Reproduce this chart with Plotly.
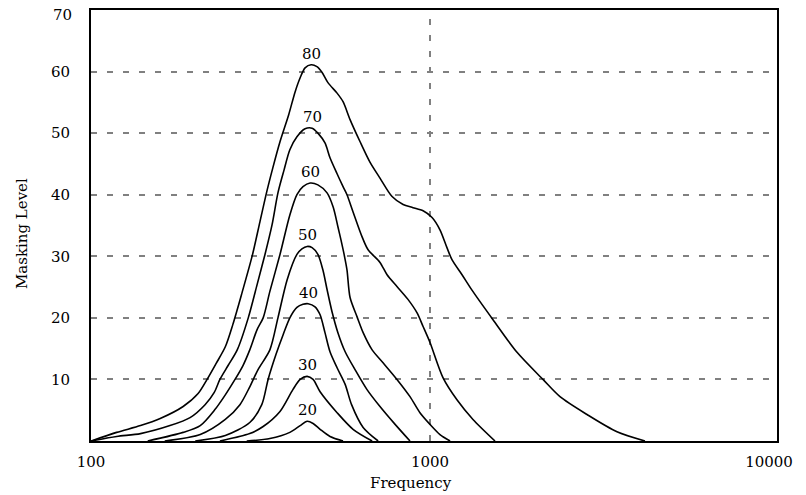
import numpy as np
import plotly.graph_objects as go

# Masking curves: frequency (Hz) and masking level for masker levels 20..80
freq_80 = [100, 119, 140, 160, 187, 207, 220, 234, 249, 262, 279, 299, 315, 330, 344, 361, 383, 400, 414, 428,
           446, 464, 480, 500, 532, 554, 581, 622, 665, 712, 773, 833, 891, 954, 1014, 1070, 1122, 1162, 1243, 1330,
           1534, 1806, 2154, 2418, 2905, 3561, 4307]
level_80 = [0, 1.4, 2.5, 3.65, 5.6, 7.7, 10.0, 12.6, 15.3, 18.9, 24.1, 30.1, 35.6, 40.5, 44.4, 48.6, 53.0, 56.7, 59.0, 60.6,
            61.1, 60.8, 59.9, 58.2, 56.5, 55.1, 52.2, 48.6, 45.3, 42.7, 39.7, 38.4, 37.9, 37.4, 36.3, 34.3, 31.4, 29.4, 27.0, 24.5,
            19.7, 14.4, 10.0, 7.2, 4.3, 1.5, 0]

freq_70 = [100, 119, 140, 171, 196, 217, 231, 240, 254, 270, 291, 309, 326, 342, 356, 371, 386, 405, 428, 449,
           467, 490, 507, 532, 554, 569, 593, 630, 656, 712, 747, 799, 861, 916, 954, 1000, 1092, 1201, 1339, 1555]
level_70 = [0, 0.73, 1.2, 2.5, 3.8, 5.9, 7.9, 10.0, 12.3, 14.8, 20.0, 25.4, 30.3, 35.1, 40.3, 44.0, 47.3, 49.4, 50.7, 50.8,
            50.0, 48.4, 46.0, 43.4, 41.3, 40.0, 37.2, 33.2, 31.1, 29.0, 27.0, 25.1, 23.0, 20.8, 18.6, 16.0, 10.3, 6.7, 3.5, 0]

freq_60 = [147, 187, 210, 232, 249, 266, 281, 294, 309, 322, 337, 361, 386, 405, 422, 443, 467, 497, 518, 535,
           546, 558, 569, 581, 609, 635, 675, 727, 799, 873, 934, 1000, 1070, 1146]
level_60 = [0, 1.4, 2.5, 5.1, 7.5, 10.0, 12.3, 14.8, 18.1, 20.0, 24.3, 30.3, 36.7, 40.0, 41.3, 41.9, 41.6, 40.3, 38.0, 34.8,
            32.7, 30.3, 27.8, 23.3, 20.2, 17.6, 14.8, 12.7, 10.0, 7.2, 4.6, 2.7, 1.05, 0]

freq_50 = [165, 210, 249, 275, 294, 311, 337, 356, 379, 405, 419, 434, 449, 467, 483, 497, 514, 535, 562, 601,
           652, 712, 789, 873]
level_50 = [0, 1.05, 3.5, 5.9, 8.8, 11.6, 14.8, 20.0, 26.2, 30.3, 31.2, 31.6, 31.4, 30.3, 27.8, 24.6, 21.0, 17.6, 14.5, 11.6,
            8.35, 5.6, 2.7, 0]

freq_40 = [203, 249, 294, 319, 333, 351, 369, 386, 405, 422, 437, 458, 474, 490, 507, 532, 562, 587, 635, 703]
level_40 = [0, 0.9, 3.0, 5.9, 10.0, 14.0, 17.3, 20.0, 21.7, 22.2, 22.3, 21.8, 20.5, 17.6, 14.5, 11.9, 9.2, 5.9, 2.2, 0]

freq_30 = [240, 294, 322, 361, 394, 414, 434, 452, 474, 532, 593, 675]
level_30 = [0, 1.2, 2.35, 4.8, 8.35, 10.0, 10.5, 10.0, 8.0, 4.6, 1.9, 0]

freq_20 = [288, 337, 386, 414, 434, 452, 474, 507, 554]
level_20 = [0, 0.4, 1.4, 2.5, 3.2, 2.85, 1.9, 0.73, 0]

curve_names = ["80", "70", "60", "50", "40", "30", "20"]
curve_freqs = [freq_80, freq_70, freq_60, freq_50, freq_40, freq_30, freq_20]
curve_levels = [level_80, level_70, level_60, level_50, level_40, level_30, level_20]

x_ticks = [100, 1000, 10000]
x_tick_text = ["100", "1000", "10000"]
y_ticks = [10, 20, 30, 40, 50, 60]
y_top = 70

FONT = "DejaVu Serif"
FS = 15

fig = go.Figure()
for name, fx, ly in zip(curve_names, curve_freqs, curve_levels):
    fig.add_trace(go.Scatter(x=fx, y=ly, mode="lines", name=name,
                             line=dict(color="black", width=1.6, shape="spline", smoothing=0.8),
                             hoverinfo="skip"))
    i = int(np.argmax(ly))
    fig.add_annotation(x=np.log10(fx[i]), y=ly[i], text=name, showarrow=False,
                       xref="x", yref="y", yanchor="bottom", yshift=0,
                       font=dict(family=FONT, size=FS, color="black"))

# vertical dashed gridline at 1000
fig.add_shape(type="line", xref="x", yref="paper", x0=1000, x1=1000, y0=0, y1=1,
              line=dict(color="#808080", width=2, dash="6px,10px"), layer="below")

fig.update_layout(
    width=806, height=495,
    margin=dict(l=91, r=29, t=10, b=54, autoexpand=False),
    paper_bgcolor="white", plot_bgcolor="white",
    showlegend=False,
    font=dict(family=FONT, size=FS, color="black"),
    xaxis=dict(type="log", range=[2, 4.0236], tickvals=x_ticks, ticktext=x_tick_text, automargin=False,
               showgrid=False, zeroline=False, showline=True, linecolor="black", linewidth=2, mirror=True,
               ticks="outside", ticklen=6, tickcolor="rgba(0,0,0,0)"),
    yaxis=dict(range=[0, y_top], tickvals=y_ticks, showgrid=True, gridcolor="#808080", gridwidth=2,
               griddash="6px,10px", zeroline=False, showline=True, linecolor="black", linewidth=2, mirror=True,
               ticks="outside", ticklen=16, tickcolor="rgba(0,0,0,0)", automargin=False),
)

# top tick label (nudged down so it stays inside the page, as in the original)
fig.add_annotation(text=str(y_top), xref="paper", yref="y", x=0, y=y_top, xanchor="right", yanchor="middle",
                   xshift=-17, yshift=-5, showarrow=False, font=dict(family=FONT, size=FS, color="black"))

fig.add_annotation(text="Frequency", xref="paper", yref="paper", x=(411 - 91) / 686, y=-0.097,
                   xanchor="center", yanchor="middle",
                   showarrow=False, font=dict(family=FONT, size=FS, color="black"))
fig.add_annotation(text="Masking Level", xref="paper", yref="paper", x=(22 - 91) / 686, y=0.48,
                   xanchor="center", yanchor="middle",
                   textangle=-90, showarrow=False, font=dict(family=FONT, size=FS, color="black"))

fig.write_html("out.html", config={"displayModeBar": False},
               post_script="document.body.style.margin='0px';")
